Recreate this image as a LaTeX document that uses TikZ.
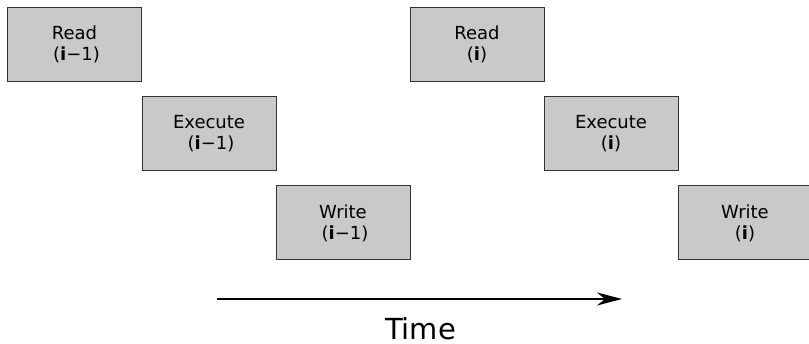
\documentclass[tikz,border=0pt]{standalone}
\usepackage{fontspec}
\setmainfont{DejaVu Sans}
\usetikzlibrary{arrows.meta}
\begin{document}
\begin{tikzpicture}[x=1pt,y=-1pt,
  stage/.style={draw=black!80, line width=1pt, fill=black!21,
    minimum width=134pt, minimum height=74pt, inner sep=0pt,
    align=center, font=\fontsize{18}{21}\selectfont},
  timeline/.style={line width=1.3pt,
    -{Stealth[length=25pt,width=13pt,inset=8pt]}}]
\useasboundingbox (0,0) rectangle (809,344);
% first instruction
\node[stage] (r1) at (74.5,44.5) {Read\\\hspace*{4pt}(\textbf{i}−1)};
\node[stage] (e1) at (209,134) {Execute\\\hspace*{4pt}(\textbf{i}−1)};
\node[stage] (w1) at (343,223) {Write\\\hspace*{4pt}(\textbf{i}−1)};
% next instruction
\node[stage] (r2) at (477,44.5) {Read\\(\textbf{i})};
\node[stage] (e2) at (611,134) {Execute\\(\textbf{i})};
\node[stage] (w2) at (745,223) {Write\\(\textbf{i})};
% time axis
\coordinate (t0) at (217,299);
\coordinate (t1) at (622,299);
\draw[timeline] (t0) -- (t1);
\node[anchor=base, font=\fontsize{29}{34}\selectfont, inner sep=0pt] (tl) at (420.5,340) {Time};
\end{tikzpicture}
\end{document}
